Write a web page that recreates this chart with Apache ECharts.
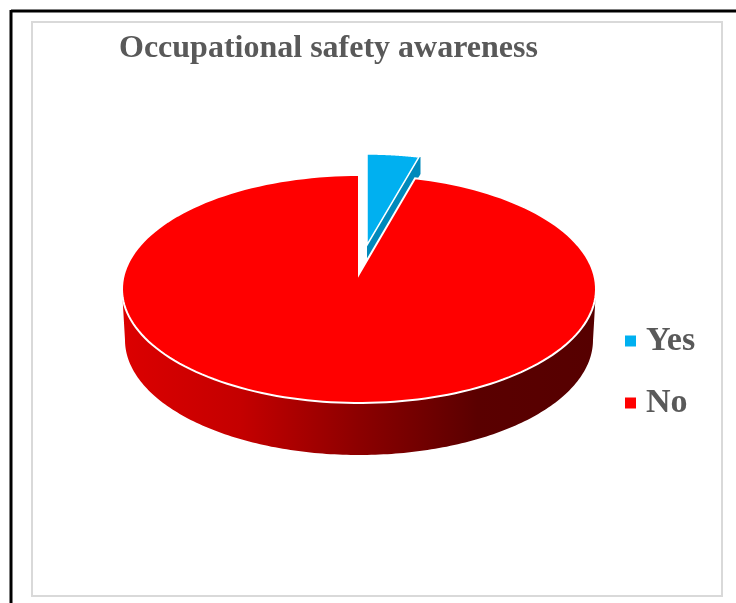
<!DOCTYPE html>
<html>
<head>
<meta charset="utf-8">
<title>Occupational safety awareness</title>
<script src="https://cdn.jsdelivr.net/npm/echarts@6/dist/echarts.min.js"></script>
<style>
html, body { margin: 0; padding: 0; background: #fff; }
#chart { width: 736px; height: 603px; }
</style>
</head>
<body>
<div id="chart"></div>
<script>
var categories = ['Yes', 'No'];
var values = [3.8, 96.2];
var colors = ['#00b0f0', '#ff0000'];

var total = values[0] + values[1];
var yesAngle = values[0] / total * Math.PI * 2;

// angle is clockwise from 12 o'clock
function rim(cx, cy, rx, ry, a) {
  return [cx + rx * Math.sin(a), cy - ry * Math.cos(a)];
}
function arc(cx, cy, rx, ry, a0, a1) {
  var pts = [];
  var n = 180;
  for (var i = 0; i <= n; i++) {
    pts.push(rim(cx, cy, rx, ry, a0 + (a1 - a0) * i / n));
  }
  return pts;
}

var top_ = { cx: 359, cy: 289, rx: 237, ry: 114, ax: 359, ay: 274 };
var base = { cx: 359, cy: 340, rx: 234, ry: 115 };
var blue = { cx: 367, cy: 259, rx: 220, ry: 105, ax: 367, ay: 245, depth: 17 };

var wallFill = {
  type: 'linear', x: 0, y: 0, x2: 1, y2: 0,
  colorStops: [
    { offset: 0, color: '#dc0000' },
    { offset: 0.25, color: '#c40000' },
    { offset: 0.5, color: '#8c0000' },
    { offset: 0.75, color: '#5a0000' },
    { offset: 1, color: '#560000' }
  ]
};

function renderYes(params, api) {
  var a = api.value(0) / total * Math.PI * 2;
  var face = arc(blue.cx, blue.cy, blue.rx, blue.ry, 0, a);
  var right = face[face.length - 1];
  var side = [
    [blue.ax, blue.ay], right,
    [right[0] + 1.5, right[1]], [right[0] + 1.5, right[1] + blue.depth], [blue.ax, blue.ay + blue.depth]
  ];
  return {
    type: 'group',
    children: [
      { type: 'polygon', shape: { points: side }, style: { fill: '#0089bb' } },
      {
        type: 'polygon',
        shape: { points: [[blue.ax, blue.ay]].concat(face) },
        style: { fill: colors[0], stroke: '#fff', lineWidth: 1.5 }
      }
    ]
  };
}

function renderNo(params, api) {
  var a = yesAngle;
  var front = arc(top_.cx, top_.cy, top_.rx, top_.ry, Math.PI / 2, Math.PI * 1.5);
  var under = arc(base.cx, base.cy, base.rx, base.ry, Math.PI * 1.5, Math.PI / 2);
  var face = arc(top_.cx, top_.cy, top_.rx, top_.ry, a, a + api.value(0) / total * Math.PI * 2);
  return {
    type: 'group',
    children: [
      { type: 'polygon', shape: { points: front.concat(under) }, style: { fill: wallFill } },
      {
        type: 'polygon',
        shape: { points: [[top_.ax, top_.ay]].concat(face) },
        style: { fill: colors[1], stroke: '#fff', lineWidth: 2, lineJoin: 'miter' }
      }
    ]
  };
}

var myChart = echarts.init(document.getElementById('chart'));

var option = {
  animation: false,
  backgroundColor: '#fff',
  title: {
    text: 'Occupational safety awareness',
    left: 119,
    top: 33,
    padding: 0,
    textStyle: { fontFamily: 'Liberation Serif', fontSize: 32, fontWeight: 'bold', color: '#595959' }
  },
  legend: {
    orient: 'vertical',
    left: 625,
    top: 324,
    padding: 0,
    itemWidth: 11,
    itemHeight: 11,
    itemGap: 28,
    icon: 'rect',
    data: categories,
    textStyle: { fontFamily: 'Liberation Serif', fontSize: 34, fontWeight: 'bold', color: '#595959', padding: [0, 0, 0, 5] }
  },
  graphic: [
    { type: 'line', shape: { x1: 11, y1: 11, x2: 736, y2: 11 }, style: { stroke: '#000', lineWidth: 3 } },
    { type: 'line', shape: { x1: 11, y1: 10, x2: 11, y2: 603 }, style: { stroke: '#000', lineWidth: 3 } },
    { type: 'rect', shape: { x: 32, y: 22, width: 690, height: 574 }, style: { fill: 'none', stroke: '#d9d9d9', lineWidth: 2 } }
  ],
  series: [
    {
      type: 'custom',
      name: categories[0],
      coordinateSystem: 'none',
      itemStyle: { color: colors[0] },
      renderItem: renderYes,
      data: [[values[0]]]
    },
    {
      type: 'custom',
      name: categories[1],
      coordinateSystem: 'none',
      itemStyle: { color: colors[1] },
      renderItem: renderNo,
      data: [[values[1]]]
    }
  ]
};

option && myChart.setOption(option);
</script>
</body>
</html>
